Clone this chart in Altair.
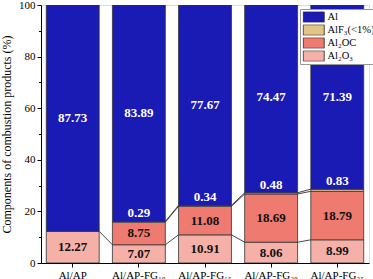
import altair as alt
import pandas as pd

categories = ["Al/AP", "Al/AP-FG₁₀", "Al/AP-FG₁₅", "Al/AP-FG₂₀", "Al/AP-FG₂₅"]
al_vals = [87.73, 83.89, 77.67, 74.47, 71.39]
alf3_vals = [None, 0.29, 0.34, 0.48, 0.83]
al2oc_vals = [None, 8.75, 11.08, 18.69, 18.79]
al2o3_vals = [12.27, 7.07, 10.91, 8.06, 8.99]

series_bottom_up = ["Al₂O₃", "Al₂OC", "AlF₃(<1%)", "Al"]
legend_order = ["Al", "AlF₃(<1%)", "Al₂OC", "Al₂O₃"]
legend_colors = ["#1a1ab4", "#e2c486", "#ee7a70", "#f5b0a8"]
label_colors = {"Al": "white", "AlF₃(<1%)": "white", "Al₂OC": "#111111", "Al₂O₃": "#111111"}
major_ticks = [0, 20, 40, 60, 80, 100]
minor_ticks = [10, 30, 50, 70, 90]

values_by_series = {
    "Al₂O₃": al2o3_vals,
    "Al₂OC": al2oc_vals,
    "AlF₃(<1%)": alf3_vals,
    "Al": al_vals,
}

FONT = "Liberation Serif"

bar_rows = []
ends = {}
for i, cat in enumerate(categories):
    cum = 0.0
    for s in series_bottom_up:
        v = values_by_series[s][i]
        if v is None:
            continue
        start, end = cum, cum + v
        cum = end
        ends[(i, s)] = end
        bar_rows.append({
            "cat": cat, "series": s, "start": start, "end": end,
            "label": f"{v:.2f}", "mid": (start + end) / 2, "tcolor": label_colors[s],
        })
bars_df = pd.DataFrame(bar_rows)

mid_df = bars_df[bars_df["series"] != "AlF₃(<1%)"]
top_df = bars_df[bars_df["series"] == "AlF₃(<1%)"]

conn_rows = []
for i in range(len(categories) - 1):
    for s in ["Al₂O₃", "Al₂OC", "AlF₃(<1%)"]:
        if (i, s) in ends and (i + 1, s) in ends:
            conn_rows.append({
                "cat": categories[i], "next": categories[i + 1],
                "y1": ends[(i, s)], "y2": ends[(i + 1, s)],
            })
conn_df = pd.DataFrame(conn_rows)

xscale = alt.Scale(domain=categories, paddingInner=0.2, paddingOuter=0.08)
yscale = alt.Scale(domain=[0, 100], nice=False)

x_enc = alt.X(
    "cat:N", scale=xscale, sort=categories, title=None,
    axis=alt.Axis(labelAngle=0, labelFont=FONT, labelFontSize=11, labelColor="black",
                  tickSize=4, tickColor="black", domainColor="black", labelPadding=2),
)
y_axis = alt.Axis(
    values=major_ticks, labelFont=FONT, labelFontSize=11, labelColor="black",
    tickSize=4, tickColor="black", domainColor="black", grid=False,
    title="Components of combustion products (%)", titleFont=FONT, titleFontSize=12,
    titleFontWeight="normal", titleColor="black", titlePadding=5, labelPadding=2,
)
minor_axis = alt.Axis(
    values=minor_ticks, labels=False, tickSize=2.5, tickColor="black",
    domain=False, grid=False, title=None, orient="left",
)

bars = alt.Chart(bars_df).mark_bar(stroke="#333333", strokeWidth=0.8, clip=True).encode(
    x=x_enc,
    y=alt.Y("end:Q", scale=yscale, axis=y_axis),
    y2="start:Q",
    color=alt.Color(
        "series:N",
        scale=alt.Scale(domain=legend_order, range=legend_colors),
        legend=alt.Legend(
            title=None, orient="none", legendX=259, legendY=4,
            labelFont=FONT, labelFontSize=10.5, labelColor="black",
            symbolType="M-1,-1H3V1H-1Z", symbolSize=110,
            symbolStrokeColor="#222222", symbolStrokeWidth=0.8, symbolOpacity=1,
            fillColor="white", strokeColor="#999999", padding=2.5,
            rowPadding=2, labelOffset=13, labelLimit=200, clipHeight=11,
        ),
    ),
)

connectors = alt.Chart(conn_df).mark_rule(color="#333333", strokeWidth=0.9).encode(
    x=alt.X("cat:N", scale=xscale, sort=categories, bandPosition=1),
    x2=alt.X2("next:N", bandPosition=0),
    y=alt.Y("y1:Q", scale=yscale, axis=minor_axis),
    y2="y2:Q",
)

mid_text = alt.Chart(mid_df).mark_text(
    font=FONT, fontSize=13, fontWeight="bold", baseline="middle"
).encode(
    x=alt.X("cat:N", scale=xscale, sort=categories),
    y=alt.Y("mid:Q", scale=yscale, axis=None),
    text="label:N",
    color=alt.Color("tcolor:N", scale=None),
)

top_text = alt.Chart(top_df).mark_text(
    font=FONT, fontSize=13, fontWeight="bold", baseline="bottom", dy=-1
).encode(
    x=alt.X("cat:N", scale=xscale, sort=categories),
    y=alt.Y("end:Q", scale=yscale, axis=None),
    text="label:N",
    color=alt.Color("tcolor:N", scale=None),
)

chart = alt.layer(bars, connectors, mid_text, top_text).resolve_scale(
    y="shared"
).resolve_axis(y="independent").properties(
    width=328, height=258,
    autosize=alt.AutoSizeParams(type="none"),
    padding={"left": 41, "top": 5, "right": 4, "bottom": 16},
).configure_view(stroke="#888888", strokeWidth=1).configure(background="white")

chart.save("out.html", embed_options={"renderer": "svg", "actions": False})
